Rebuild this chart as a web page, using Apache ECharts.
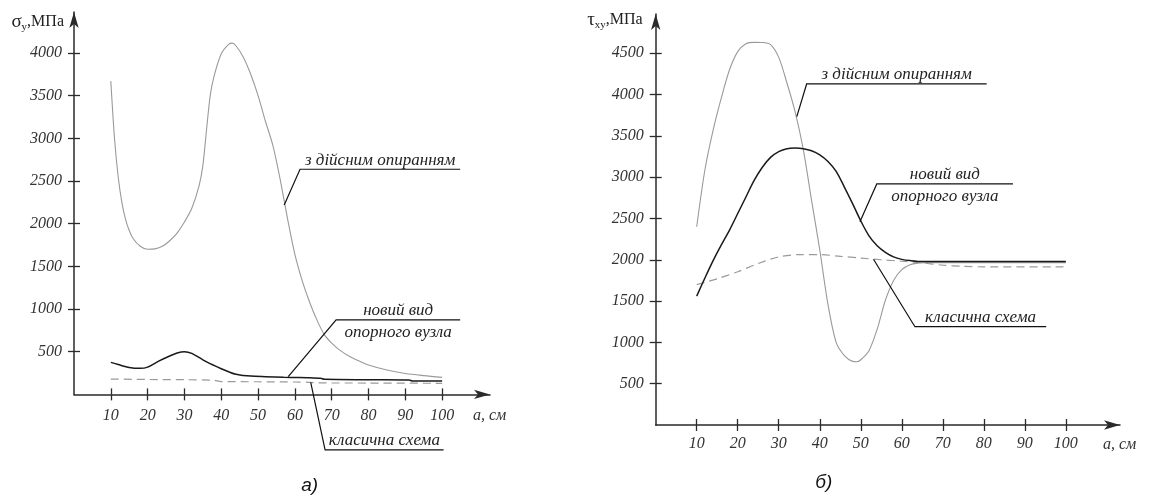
<!DOCTYPE html>
<html>
<head>
<meta charset="utf-8">
<script src="https://cdn.jsdelivr.net/npm/echarts@6/dist/echarts.min.js"></script>
<style>
  html, body { margin: 0; padding: 0; background: #fff; }
  #chart { width: 1150px; height: 501px; }
</style>
</head>
<body>
<div id="chart"></div>
<script>
// tick values
const xTicks = [10, 20, 30, 40, 50, 60, 70, 80, 90, 100];
const yTicksA = [500, 1000, 1500, 2000, 2500, 3000, 3500, 4000];
const yTicksB = [500, 1000, 1500, 2000, 2500, 3000, 3500, 4000, 4500];

// а) sigma_y, MPa  [a (cm), value]
const realA = [[10,3670],[11,3000],[12,2550],[13,2250],[14,2050],[15,1920],[16,1830],[18,1735],[20,1700],[22,1705],[24,1735],[26,1800],[28,1890],[30,2020],[32,2180],[34,2450],[35,2680],[36,3100],[37,3500],[38,3720],[40,3990],[42,4100],[43,4115],[44,4085],[46,3950],[48,3750],[50,3500],[52,3200],[54,2920],[56,2520],[58,2060],[60,1640],[62,1330],[64,1080],[66,870],[68,700],[70,600],[72,525],[75,440],[78,380],[80,345],[85,285],[90,245],[95,220],[100,200]];
const newA = [[10,375],[12,350],[15,315],[18,305],[20,320],[23,390],[26,450],[28,485],[30,500],[32,480],[35,405],[38,340],[40,300],[42,265],[44,235],[46,222],[48,215],[52,208],[57,200],[60,198],[64,195],[67,188],[68,177],[80,172],[91,169],[92,157],[100,157]];
const classicA = [[10,180],[20,175],[30,172],[38,165],[40,150],[50,148],[60,145],[64,142],[66,135],[80,133],[100,130]];

// б) tau_xy, MPa
const realB = [[10,2400],[12,3090],[14,3570],[16,3960],[18,4300],[20,4520],[22,4615],[24,4632],[26,4630],[28,4605],[30,4450],[32,4140],[34,3790],[36,3330],[38,2720],[40,2120],[42,1460],[44,1000],[46,840],[48,770],[49,765],[50,790],[52,900],[54,1160],[56,1510],[58,1750],[60,1880],[62,1940],[64,1960],[66,1965],[100,1965]];
const newB = [[10,1560],[12,1780],[14,1990],[16,2180],[18,2360],[20,2560],[22,2760],[24,2960],[26,3120],[28,3240],[30,3310],[32,3345],[34,3352],[36,3345],[38,3320],[40,3270],[42,3190],[44,3070],[46,2880],[48,2680],[50,2470],[52,2290],[54,2170],[56,2090],[58,2035],[60,2005],[62,1990],[65,1978],[100,1978]];
const classicB = [[10,1700],[15,1770],[20,1855],[25,1955],[30,2035],[35,2062],[40,2062],[45,2042],[50,2020],[55,2000],[60,1982],[65,1962],[70,1935],[75,1920],[80,1915],[100,1915]];

// leader notes: grid, text lines, tip -> elbow -> end (data coords)
const notes = [
  { grid: 0, lines: ['з дійсним опиранням'], pts: [[57.1, 2220], [61.4, 2638], [104.9, 2638]] },
  { grid: 0, lines: ['новий вид', 'опорного вузла'], pts: [[58.2, 207], [71.2, 872], [104.9, 872]] },
  { grid: 0, lines: ['класична схема'], pts: [[64.3, 142], [68.2, -651], [100.4, -651]] },
  { grid: 1, lines: ['з дійсним опиранням'], pts: [[34.4, 3732], [36.8, 4128], [80.7, 4128]] },
  { grid: 1, lines: ['новий вид', 'опорного вузла'], pts: [[49.8, 2461], [53.9, 2918], [87.1, 2918]] },
  { grid: 1, lines: ['класична схема'], pts: [[53.1, 2006], [63.2, 1190], [95.2, 1190]] }
];

// panel letters: text, grid, a (cm) under which it sits
const panels = [['а)', 0, 64], ['б)', 1, 41]];

const serif = '"Liberation Serif", "Times New Roman", serif';
const axisColor = '#2a2a2a';

function mainX(grid, max, margin, nameLH) {
  return {
    type: 'value', gridIndex: grid, min: 0, max: max, position: 'bottom',
    name: '\nа, см', nameLocation: 'end', nameGap: -17,
    nameTextStyle: { fontFamily: serif, fontStyle: 'italic', fontSize: 16, color: '#333',
      align: 'left', verticalAlign: 'middle', lineHeight: nameLH },
    axisLine: { onZero: false, lineStyle: { color: axisColor, width: 1.5 },
      symbol: ['none', 'arrow'], symbolSize: [7, 16] },
    axisTick: { inside: false, length: 6, customValues: xTicks, lineStyle: { color: axisColor, width: 1.3 } },
    axisLabel: { customValues: xTicks, margin: margin, fontFamily: serif, fontStyle: 'italic', fontSize: 16, color: '#333',
      formatter: function (v) { return String(v); } },
    splitLine: { show: false }
  };
}
function innerX(grid, max) {
  return {
    type: 'value', gridIndex: grid, min: 0, max: max, position: 'bottom',
    axisLine: { show: false },
    axisTick: { inside: true, length: 6, customValues: xTicks, lineStyle: { color: axisColor, width: 1.3 } },
    axisLabel: { show: false }, splitLine: { show: false }
  };
}
function mainY(grid, max, ticks, sym, gap, pad) {
  return {
    type: 'value', gridIndex: grid, min: 0, max: max, position: 'left',
    name: '{g|' + sym[0] + '}{s|' + sym[1] + '}{m|,МПа}', nameLocation: 'end', nameGap: gap,
    nameTextStyle: { align: 'right', verticalAlign: 'middle', padding: [0, pad, 0, 0],
      rich: {
        g: { fontFamily: serif, fontSize: 19, color: '#222', lineHeight: 22 },
        m: { fontFamily: serif, fontSize: 16, color: '#222', lineHeight: 22 },
        s: { fontFamily: serif, fontSize: 11, color: '#222', lineHeight: 22, verticalAlign: 'bottom' }
      } },
    axisLine: { onZero: false, lineStyle: { color: axisColor, width: 1.5 },
      symbol: ['none', 'arrow'], symbolSize: [7, 16] },
    axisTick: { inside: false, length: 6, customValues: ticks, lineStyle: { color: axisColor, width: 1.3 } },
    axisLabel: { customValues: ticks, margin: 12, fontFamily: serif, fontStyle: 'italic', fontSize: 16, color: '#333',
      formatter: function (v) { return String(v); } },
    splitLine: { show: false }
  };
}
function innerY(grid, max, ticks) {
  return {
    type: 'value', gridIndex: grid, min: 0, max: max, position: 'left',
    axisLine: { show: false },
    axisTick: { inside: true, length: 6, customValues: ticks, lineStyle: { color: axisColor, width: 1.3 } },
    axisLabel: { show: false }, splitLine: { show: false }
  };
}
function curve(name, data, axis, color, width, type) {
  return {
    name: name, type: 'line', data: data, xAxisIndex: axis, yAxisIndex: axis,
    showSymbol: false, smooth: 0.3, silent: true,
    lineStyle: { color: color, width: width, type: type }
  };
}

const chart = echarts.init(document.getElementById('chart'), null, { renderer: 'canvas' });

chart.setOption({
  backgroundColor: '#fff',
  animation: false,
  grid: [
    { left: 74, width: 416, top: 12, height: 382.4 },
    { left: 655.7, width: 464.3, top: 14, height: 411 }
  ],
  xAxis: [mainX(0, 113, 13, 42), mainX(1, 113.2, 11, 39), innerX(0, 113), innerX(1, 113.2)],
  yAxis: [
    mainY(0, 4480, yTicksA, ['σ', 'y'], -10, 10),
    mainY(1, 4975, yTicksB, ['τ', 'xy'], -6, 13),
    innerY(0, 4480, yTicksA),
    innerY(1, 4975, yTicksB)
  ],
  series: [
    curve('з дійсним опиранням', realA, 0, '#9a9a9a', 1.1, 'solid'),
    curve('класична схема', classicA, 0, '#9a9a9a', 1.2, [8, 5]),
    curve('новий вид опорного вузла', newA, 0, '#1a1a1a', 1.5, 'solid'),
    curve('з дійсним опиранням', realB, 1, '#9a9a9a', 1.1, 'solid'),
    curve('класична схема', classicB, 1, '#9a9a9a', 1.2, [8, 5]),
    curve('новий вид опорного вузла', newB, 1, '#1a1a1a', 1.5, 'solid')
  ]
});

// leaders, their captions and the panel letters
const graphics = [];
notes.forEach(function (n) {
  const px = n.pts.map(function (p) { return chart.convertToPixel({ gridIndex: n.grid }, p); });
  graphics.push({
    type: 'polyline', silent: true, z: 10,
    shape: { points: px },
    style: { stroke: '#111', lineWidth: 1.2, fill: null }
  });
  const cx = (px[1][0] + px[2][0]) / 2;
  const ly = px[1][1];
  n.lines.forEach(function (t, i) {
    graphics.push({
      type: 'text', silent: true, z: 10,
      x: cx, y: i === 0 ? ly - 9 : ly + 13,
      style: { text: t, font: 'italic 17px ' + serif, fill: '#222',
        align: 'center', verticalAlign: 'middle', textAlign: 'center', textVerticalAlign: 'middle' }
    });
  });
});
panels.forEach(function (p) {
  const c = chart.convertToPixel({ gridIndex: p[1] }, [p[2], 0]);
  graphics.push({
    type: 'text', silent: true,
    x: c[0], y: p[1] === 0 ? c[1] + 91 : c[1] + 58,
    style: { text: p[0], font: 'italic 19px "Liberation Sans", Arial, sans-serif', fill: '#111',
      align: 'center', verticalAlign: 'middle', textAlign: 'center', textVerticalAlign: 'middle' }
  });
});
chart.setOption({ graphic: graphics });
</script>
</body>
</html>
